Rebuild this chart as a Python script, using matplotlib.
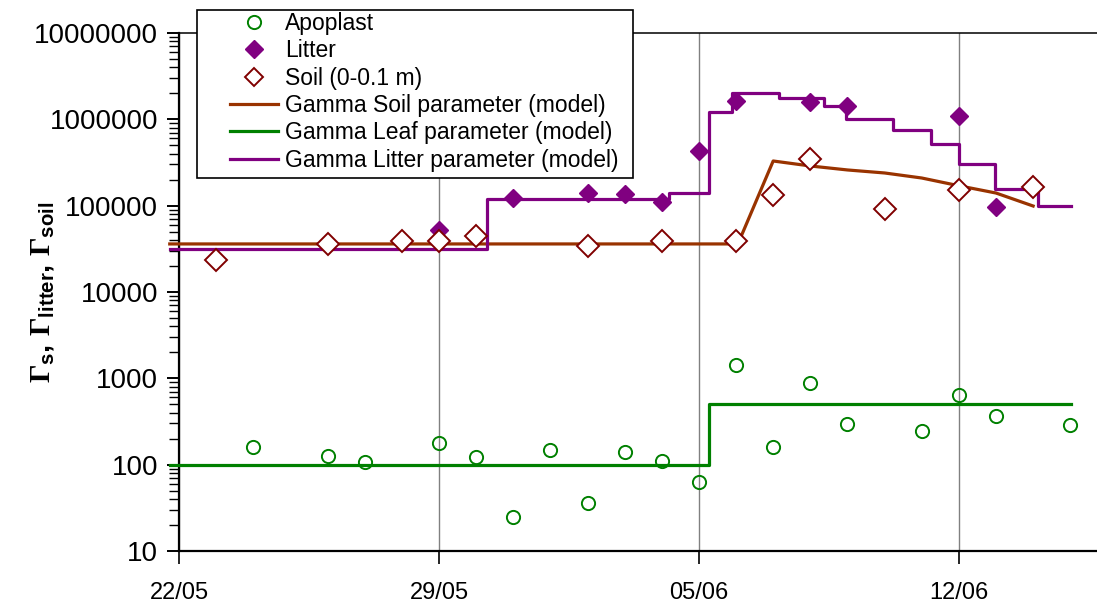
import matplotlib
matplotlib.use('Agg')
import matplotlib.pyplot as plt
from matplotlib.lines import Line2D
from matplotlib.patches import Rectangle
from matplotlib.ticker import FixedLocator, LogLocator, NullFormatter

plt.rcParams['font.family'] = ['Liberation Sans', 'DejaVu Sans']
plt.rcParams['mathtext.fontset'] = 'custom'
plt.rcParams['mathtext.rm'] = 'Liberation Serif:bold'
plt.rcParams['mathtext.bf'] = 'Liberation Sans:bold'

# days counted from 22/05
apo_day = [2, 4, 5, 7, 8, 9, 10, 11, 12, 13, 14, 15, 16, 17, 18, 20, 21, 22, 24]
apo_val = [160, 126, 108, 178, 123, 25, 148, 36, 140, 110, 63, 1425, 160, 880,
           295, 246, 640, 365, 288]

litter_day = [7, 9, 11, 12, 13, 14, 15, 17, 18, 21, 22]
litter_val = [52000, 123000, 140000, 136000, 111000, 435000, 1650000, 1570000,
              1430000, 1090000, 96700]

soil_day = [1, 4, 6, 7, 8, 11, 13, 15, 16, 17, 19, 21, 23]
soil_val = [23400, 36000, 39000, 39000, 44600, 34000, 39000, 39000, 134000,
            345000, 91500, 152000, 164000]

# model curves
soil_mod_day = [-0.25, 15.05, 16, 17, 18, 19, 20, 21, 22, 23]
soil_mod_val = [36000, 36000, 329000, 288000, 259000, 239000, 209000, 170000,
                140000, 99000]

leaf_mod_day = [-0.25, 14.27, 24.02]
leaf_mod_val = [100, 500, 500]

litter_mod_day = [-0.25, 8.28, 13.2, 14.27, 14.9, 16.15, 17.37, 17.97, 19.22,
                  20.25, 21.0, 21.97, 23.13, 24.02]
litter_mod_val = [31500, 120000, 140000, 1200000, 2020000, 1770000, 1430000,
                  1000000, 752000, 518000, 304000, 155000, 99000, 99000]

xtick_days = [0, 7, 14, 21]
xtick_labels = ['22/05', '29/05', '05/06', '12/06']
ytick_vals = [10, 100, 1000, 10000, 100000, 1000000, 10000000]
ytick_labels = ['10', '100', '1000', '10000', '100000', '1000000', '10000000']

c_apo = '#008000'
c_litter = '#800080'
c_soil = '#800000'
c_soil_mod = '#993300'

fig = plt.figure(figsize=(10.97, 6.05), dpi=100)
ax = fig.add_axes([0.1632, 0.0893, 0.8368, 0.8562])

ax.set_yscale('log')
ax.set_ylim(10, 1e7)
ax.set_xlim(0, 24.72)

ax.plot(soil_mod_day, soil_mod_val, color=c_soil_mod, lw=2.3, clip_on=False, zorder=3)
ax.step(leaf_mod_day, leaf_mod_val, where='post', color=c_apo, lw=2.3,
        clip_on=False, zorder=3)
ax.step(litter_mod_day, litter_mod_val, where='post', color=c_litter, lw=2.3,
        clip_on=False, zorder=3)

ax.plot(apo_day, apo_val, 'o', ms=9.5, mfc='none', mec=c_apo, mew=1.4,
        zorder=4, clip_on=False)
ax.plot(litter_day, litter_val, 'D', ms=9.5, mfc=c_litter, mec=c_litter,
        mew=1, zorder=4)
ax.plot(soil_day, soil_val, 'D', ms=11, mfc='white', mec=c_soil, mew=1.4,
        zorder=5)

# axes cosmetics
ax.spines['right'].set_visible(False)
ax.spines['left'].set_linewidth(1.6)
ax.spines['bottom'].set_linewidth(1.6)
ax.spines['top'].set_linewidth(1.1)

ax.yaxis.set_major_locator(FixedLocator(ytick_vals))
ax.set_yticklabels(ytick_labels, fontsize=20)
ax.yaxis.set_minor_locator(LogLocator(base=10, subs=range(2, 10)))
ax.yaxis.set_minor_formatter(NullFormatter())
ax.tick_params(axis='y', which='major', direction='out', length=9, width=1.4, pad=6)
ax.tick_params(axis='y', which='minor', direction='out', length=7, width=1.0)

ax.set_xticks(xtick_days)
ax.set_xticklabels(xtick_labels, fontsize=17)
ax.tick_params(axis='x', direction='out', length=9, width=1.2, pad=13)
ax.xaxis.grid(True, color='#808080', lw=1.0)

ax.set_ylabel(r'$\Gamma_{\mathbf{s}}$, $\Gamma_{\mathbf{litter}}$, $\Gamma_{\mathbf{soil}}$',
              fontsize=21, fontweight='bold')
ax.yaxis.set_label_coords(-0.133, 0.5)

# legend with its own square frame
fig.patches.append(Rectangle((197 / 1097, 1 - 178 / 605), 436 / 1097, 168 / 605,
                             transform=fig.transFigure, facecolor='white',
                             edgecolor='black', lw=1.2, zorder=1))
handles = [
    Line2D([], [], ls='none', marker='o', ms=9.5, mfc='none', mec=c_apo, mew=1.4),
    Line2D([], [], ls='none', marker='D', ms=9.5, mfc=c_litter, mec=c_litter),
    Line2D([], [], ls='none', marker='D', ms=9, mfc='white', mec=c_soil, mew=1.4),
    Line2D([], [], color=c_soil_mod, lw=2.3),
    Line2D([], [], color=c_apo, lw=2.3),
    Line2D([], [], color=c_litter, lw=2.3),
]
labels = ['Apoplast', 'Litter', 'Soil (0-0.1 m)', 'Gamma Soil parameter (model)',
          'Gamma Leaf parameter (model)', 'Gamma Litter parameter (model)']
fig.legend(handles, labels, loc='upper left', bbox_to_anchor=(230 / 1097, 1 - 12 / 605),
           frameon=False, fontsize=16.5, handlelength=2.1, handletextpad=0.3,
           labelspacing=0.19, borderpad=0, borderaxespad=0, numpoints=1)

fig.savefig('out.png', dpi=100)
